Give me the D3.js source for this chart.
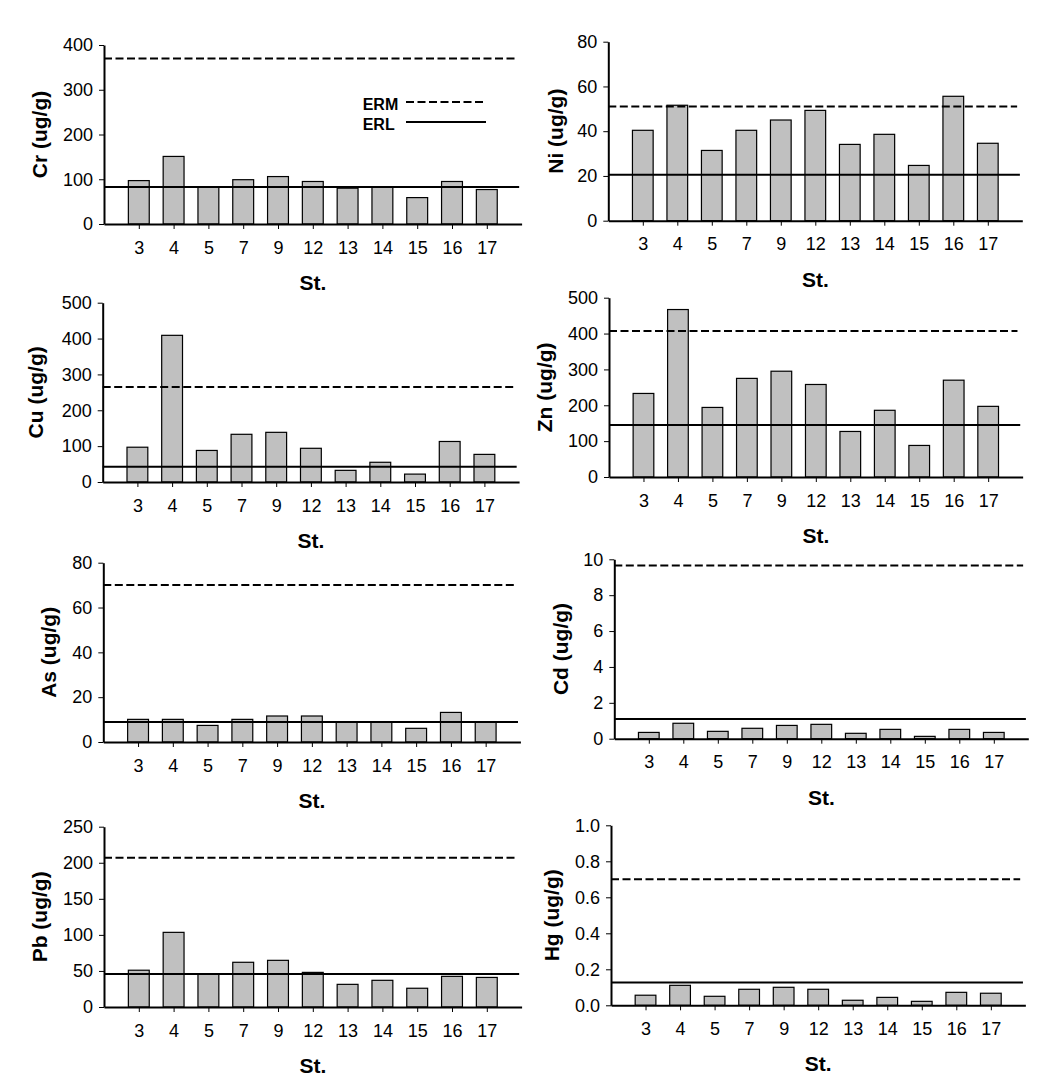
<!DOCTYPE html>
<html>
<head>
<meta charset="utf-8">
<script src="https://cdn.jsdelivr.net/npm/d3@7"></script>
<style>
  html, body { margin: 0; padding: 0; background: #fff; }
  svg { display: block; }
  text { font-family: "Liberation Sans", Arial, sans-serif; fill: #000; }
</style>
</head>
<body>
<svg id="chart" width="1064" height="1083"></svg>
<script>
// ---------------- data ----------------
const stations = ["3", "4", "5", "7", "9", "12", "13", "14", "15", "16", "17"];
const elements = ["Cr", "Ni", "Cu", "Zn", "As", "Cd", "Pb", "Hg"];

const crValues = [97, 151, 82, 99, 106, 95, 80, 83, 59, 95, 77];
const niValues = [40.4, 51.6, 31.4, 40.4, 45.0, 49.3, 34.1, 38.6, 24.7, 55.6, 34.6];
const cuValues = [97, 409, 88, 133, 138.5, 94, 32.5, 55, 22, 113, 77];
const znValues = [233, 467, 194, 275, 295, 258, 127, 186, 88, 270, 197];
const asValues = [10.1, 10.1, 7.4, 10.1, 11.6, 11.6, 8.8, 8.8, 6.1, 13.2, 8.8];
const cdValues = [0.35, 0.86, 0.41, 0.58, 0.74, 0.80, 0.30, 0.52, 0.13, 0.52, 0.35];
const pbValues = [51, 103.5, 46, 62, 64.7, 48, 31.4, 37, 26, 42.5, 41];
const hgValues = [0.056, 0.111, 0.05, 0.089, 0.1, 0.089, 0.028, 0.044, 0.022, 0.072, 0.067];

const ermValues = [370, 51, 265, 407, 70, 9.65, 207, 0.70];
const erlValues = [82.5, 20.5, 42.7, 145, 8.9, 1.1, 45.7, 0.126];

const yMaxValues = [400, 80, 500, 500, 80, 10, 250, 1.0];
const yTickSteps = [100, 20, 100, 100, 20, 2, 50, 0.2];
const yTickDecimals = [0, 0, 0, 0, 0, 0, 0, 1];

const legendLabels = ["ERM", "ERL"];
const xAxisTitle = "St.";
const unitSuffix = " (ug/g)";

const seriesValues = [crValues, niValues, cuValues, znValues, asValues, cdValues, pbValues, hgValues];

// ---------------- layout (pixels) ----------------
const layout = [
  { left: 104,   top: 45,    bottom: 224,    step: 34.8,  labelOff: 64 },
  { left: 608.3, top: 41.7,  bottom: 220.7,  step: 34.5,  labelOff: 53 },
  { left: 102.7, top: 302.7, bottom: 482,    step: 34.7,  labelOff: 67.5 },
  { left: 609,   top: 297.7, bottom: 477,    step: 34.47, labelOff: 64 },
  { left: 103.3, top: 562.7, bottom: 742,    step: 34.76, labelOff: 55 },
  { left: 614.3, top: 559.3, bottom: 738.7,  step: 34.5,  labelOff: 54 },
  { left: 104,   top: 826.7, bottom: 1007,   step: 34.8,  labelOff: 64 },
  { left: 611,   top: 825.3, bottom: 1005.3, step: 34.53, labelOff: 59 }
];

const TICK_FONT = "18px";
const TITLE_FONT = "21px";

const svg = d3.select("#chart");
svg.append("rect").attr("width", 1064).attr("height", 1083).attr("fill", "#fff");

elements.forEach((el, i) => {
  const L = layout[i];
  const values = seriesValues[i];
  const right = L.left + L.step * (stations.length + 1);

  const x = d3.scalePoint().domain(stations).range([L.left, right]).padding(1);
  const y = d3.scaleLinear().domain([0, yMaxValues[i]]).range([L.bottom, L.top]);
  const bw = L.step * 0.6;

  const g = svg.append("g");

  // bars
  g.selectAll("rect.bar")
    .data(stations.map((s, k) => ({ s, v: values[k] })))
    .join("rect")
    .attr("class", "bar")
    .attr("x", d => x(d.s) - bw / 2)
    .attr("y", d => y(d.v))
    .attr("width", bw)
    .attr("height", d => y(0) - y(d.v))
    .attr("fill", "#c0c0c0")
    .attr("stroke", "#000")
    .attr("stroke-width", 1.2);

  // ERL (solid) and ERM (dashed) guideline levels
  g.append("line")
    .attr("x1", L.left).attr("x2", L.left + L.step * 11.93)
    .attr("y1", y(erlValues[i])).attr("y2", y(erlValues[i]))
    .attr("stroke", "#000").attr("stroke-width", 2);
  g.append("line")
    .attr("x1", L.left).attr("x2", L.left + L.step * 11.85)
    .attr("y1", y(ermValues[i])).attr("y2", y(ermValues[i]))
    .attr("stroke", "#000").attr("stroke-width", 2)
    .attr("stroke-dasharray", "8,3.5");

  // y axis
  const nT = Math.round(yMaxValues[i] / yTickSteps[i]);
  const yTicks = d3.range(nT + 1).map(k => +(k * yTickSteps[i]).toFixed(4));
  const yAxis = d3.axisLeft(y)
    .tickValues(yTicks)
    .tickSize(5).tickSizeOuter(0).tickPadding(6)
    .tickFormat(d3.format("." + yTickDecimals[i] + "f"));
  const ya = g.append("g").attr("transform", `translate(${L.left},0)`).call(yAxis);
  ya.select(".domain").attr("stroke-width", 2);
  ya.selectAll(".tick line").attr("stroke-width", 1);
  ya.selectAll(".tick text").style("font-size", TICK_FONT).style("font-family", '"Liberation Sans", Arial, sans-serif');

  // x axis
  const xAxis = d3.axisBottom(x).tickSize(5).tickSizeOuter(0).tickPadding(12);
  const xa = g.append("g").attr("transform", `translate(0,${L.bottom})`).call(xAxis);
  xa.select(".domain").attr("stroke-width", 2);
  xa.selectAll(".tick line").attr("stroke-width", 1);
  xa.selectAll(".tick text").style("font-size", TICK_FONT).style("font-family", '"Liberation Sans", Arial, sans-serif');

  // x title
  g.append("text")
    .attr("x", (L.left + right) / 2)
    .attr("y", L.bottom + 66)
    .attr("text-anchor", "middle")
    .style("font-size", TITLE_FONT).style("font-weight", "bold")
    .text(xAxisTitle);

  // y title
  g.append("text")
    .attr("transform", `translate(${L.left - L.labelOff},${(L.top + L.bottom) / 2}) rotate(-90)`)
    .attr("text-anchor", "middle")
    .attr("dy", "0.35em")
    .style("font-size", TITLE_FONT).style("font-weight", "bold")
    .text(el + unitSuffix);

  // legend in first panel
  if (i === 0) {
    const lg = g.append("g");
    const ly = [102, 122];
    legendLabels.forEach((lab, k) => {
      lg.append("text")
        .attr("x", 362.7).attr("y", ly[k] + 8)
        .style("font-size", "16px").style("font-weight", "bold")
        .text(lab);
      lg.append("line")
        .attr("x1", 406).attr("x2", 486)
        .attr("y1", ly[k]).attr("y2", ly[k])
        .attr("stroke", "#000").attr("stroke-width", 2)
        .attr("stroke-dasharray", k === 0 ? "8,3.5" : null);
    });
  }
});
</script>
</body>
</html>
